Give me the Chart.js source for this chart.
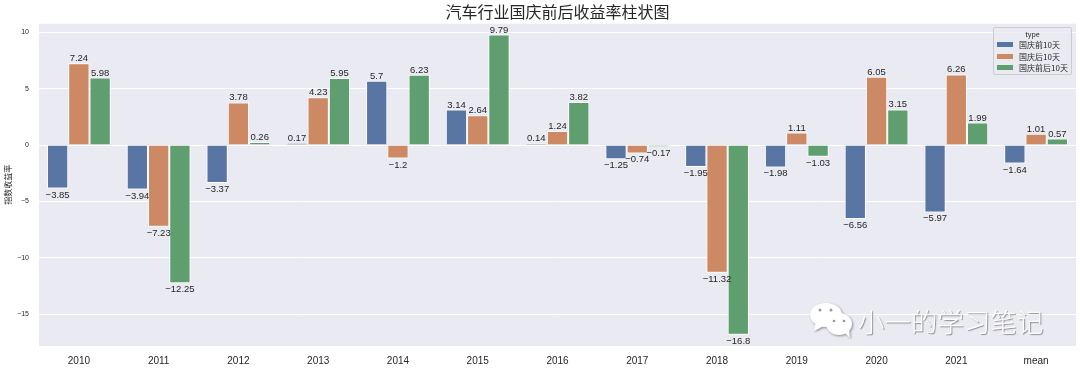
<!DOCTYPE html>
<html>
<head>
<meta charset="utf-8">
<title>汽车行业国庆前后收益率柱状图</title>
<script src="https://cdn.jsdelivr.net/npm/chart.js@4"></script>
<style>
    html, body { margin: 0; padding: 0; background: #fff; }
    #wrap { position: relative; width: 1080px; height: 369px; overflow: hidden; font-family: "Noto Sans CJK SC", sans-serif; }
    #legend { position: absolute; left: 993px; top: 27px; width: 79px; height: 48px; box-sizing: border-box; border: 1px solid #cccccc; border-radius: 2px; background: rgba(234, 234, 242, 0.8); color: #262626; font-size: 8px; line-height: 11.5px; }
    #legend .head { text-align: center; font-size: 7px; line-height: 10px; margin-top: 1px; }
    #legend .row { white-space: nowrap; padding-left: 3px; }
    #legend .row i { display: inline-block; width: 16px; height: 5px; margin-right: 6px; vertical-align: 1px; }
    #mark { position: absolute; left: 858px; top: 301px; font-size: 26.5px; line-height: 40px; color: #fff; font-weight: 300; white-space: nowrap; text-shadow: 1px 1px 1px rgba(0, 0, 0, 0.4); }
    #icon { position: absolute; left: 809px; top: 302px; }
</style>
</head>
<body>
<div id="wrap">
    <canvas id="chart" width="1080" height="369"></canvas>
    <svg id="icon" width="46" height="38" viewBox="0 0 46 38">
        <g fill="#fff" style="filter: drop-shadow(1px 1px 1px rgba(0,0,0,.4))">
            <ellipse cx="17" cy="13" rx="16" ry="12"/>
            <path d="M7 20 L5 29 L15 24 Z"/>
            <ellipse cx="30" cy="22" rx="13" ry="11"/>
            <path d="M35 30 L41 36 L40 27 Z"/>
        </g>
        <g fill="#999">
            <circle cx="11" cy="8" r="1.5"/>
            <circle cx="22" cy="8" r="1.5"/>
            <circle cx="25" cy="19" r="1.3"/>
            <circle cx="35" cy="19" r="1.3"/>
        </g>
    </svg>
    <div id="mark">小一的学习笔记</div>
    <div id="legend"></div>
</div>
<script>
const years = ['2010', '2011', '2012', '2013', '2014', '2015', '2016', '2017', '2018', '2019', '2020', '2021', 'mean'];
const avant = [-3.85, -3.94, -3.37, 0.17, 5.7, 3.14, 0.14, -1.25, -1.95, -1.98, -6.56, -5.97, -1.64];
const apres = [7.24, -7.23, 3.78, 4.23, -1.2, 2.64, 1.24, -0.74, -11.32, 1.11, 6.05, 6.26, 1.01];
const autour = [5.98, -12.25, 0.26, 5.95, 6.23, 9.79, 3.82, -0.17, -16.8, -1.03, 3.15, 1.99, 0.57];
const yTicks = [-15, -10, -5, 0, 5, 10];

const moins = s => String(s).replace('-', '\u2212');

// Fond gris du graphique (style seaborn)
const fondPlugin = {
    id: 'fond',
    beforeDraw(chart) {
        const { ctx, chartArea: a } = chart;
        ctx.save();
        ctx.fillStyle = '#eaeaf2';
        ctx.fillRect(a.left, a.top, a.right - a.left, a.bottom - a.top);
        ctx.restore();
    },
};

// Ecrit la valeur au bout de chaque barre
const valeursPlugin = {
    id: 'valeurs',
    afterDatasetsDraw(chart) {
        const { ctx } = chart;
        ctx.save();
        ctx.font = '9.5px "Liberation Sans", sans-serif';
        ctx.fillStyle = '#262626';
        ctx.textAlign = 'center';
        chart.data.datasets.forEach((ds, i) => {
            chart.getDatasetMeta(i).data.forEach((bar, j) => {
                const v = ds.data[j];
                ctx.textBaseline = 'alphabetic';
                ctx.fillText(moins(v), bar.x, v < 0 ? bar.y + 9 : bar.y - 2);
            });
        });
        ctx.restore();
    },
};

const chart = new Chart(document.getElementById('chart'), {
    type: 'bar',
    data: {
        labels: years,
        datasets: [
            { label: '国庆前10天', data: avant, backgroundColor: '#5875a4' },
            { label: '国庆后10天', data: apres, backgroundColor: '#cc8963' },
            { label: '国庆前后10天', data: autour, backgroundColor: '#5f9e6e' },
        ],
    },
    options: {
        responsive: false,
        animation: false,
        layout: { padding: { left: 0, right: 4, top: 0, bottom: 0 } },
        datasets: { bar: { barPercentage: 1, categoryPercentage: 0.8, borderWidth: 1, borderColor: '#ffffff' } },
        plugins: {
            legend: { display: false },
            tooltip: { enabled: false },
            title: {
                display: true,
                fullSize: false,
                text: '汽车行业国庆前后收益率柱状图',
                color: '#262626',
                font: { family: '"Noto Sans CJK SC"', size: 16, weight: 'normal' },
                padding: { top: 2, bottom: 2.5 },
            },
        },
        scales: {
            x: {
                grid: { display: false },
                border: { display: false },
                ticks: { color: '#262626', font: { family: '"Liberation Sans"', size: 10 }, padding: 1, maxRotation: 0 },
                afterFit(scale) { scale.height = 23; },
            },
            y: {
                min: -17.8,
                max: 10.75,
                grid: { color: '#ffffff', lineWidth: 1, drawTicks: false },
                border: { display: false },
                afterBuildTicks(scale) { scale.ticks = yTicks.map(v => ({ value: v })); },
                afterFit(scale) { scale.width = 39; },
                ticks: {
                    color: '#262626',
                    font: { family: '"Liberation Sans"', size: 7 },
                    padding: 10,
                    callback: v => moins(v),
                },
                title: {
                    display: true,
                    text: '指数收益率',
                    color: '#262626',
                    font: { family: '"Noto Sans CJK SC"', size: 8 },
                    padding: { top: 3, bottom: 0 },
                },
            },
        },
    },
    plugins: [fondPlugin, valeursPlugin],
});

// Légende construite à partir des datasets
const legende = document.getElementById('legend');
legende.innerHTML = '<div class="head">type</div>' + chart.data.datasets
    .map(ds => `<div class="row"><i style="background:${ds.backgroundColor}"></i>${ds.label}</div>`)
    .join('');
</script>
</body>
</html>
